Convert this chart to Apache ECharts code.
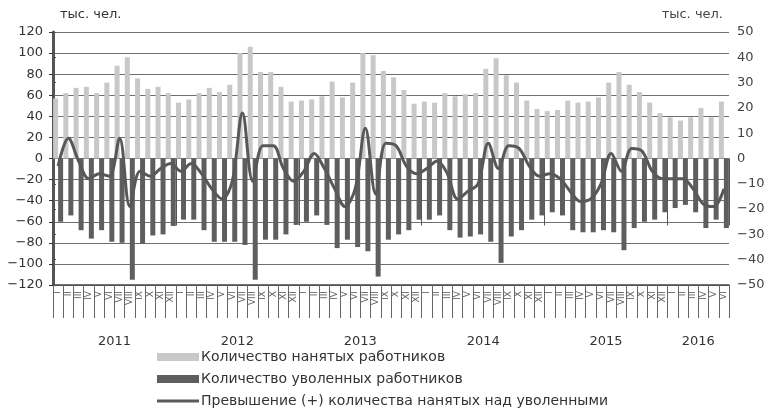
<!DOCTYPE html>
<html>
<head>
<meta charset="utf-8">
<script src="https://cdn.jsdelivr.net/npm/echarts@6/dist/echarts.min.js"></script>
<style>html,body{margin:0;padding:0;background:#fff;}#c{width:770px;height:408px;}</style>
</head>
<body>
<div id="c"></div>
<script>
// ---- data ----
const years = ['2011', '2012', '2013', '2014', '2015', '2016'];
const monthsPerYear = [12, 12, 12, 12, 12, 6];
const romanMonths = ['I', 'II', 'III', 'IV', 'V', 'VI', 'VII', 'VIII', 'IX', 'X', 'XI', 'XII'];

// hired workers, thousand persons (left axis)
const hired = [
  57, 62, 67, 68, 62, 72, 88, 96, 76, 66, 68, 62,
  53, 56, 62, 67, 63, 70, 100, 106, 82, 82, 68, 54,
  55, 56, 59, 73, 58, 72, 100, 98, 83, 77, 65, 52,
  54, 53, 62, 59, 61, 62, 85, 95, 79, 72, 55, 47,
  45, 46, 55, 53, 54, 58, 72, 82, 70, 63, 53, 43,
  39, 36, 39, 48, 39, 54
];
// dismissed workers, thousand persons (left axis, negative)
const fired = [
  -60, -54, -68, -76, -68, -79, -80, -115, -81, -73, -72, -64,
  -58, -58, -68, -79, -79, -79, -82, -115, -77, -77, -72, -63,
  -60, -54, -63, -85, -77, -84, -88, -112, -77, -72, -68, -58,
  -58, -54, -68, -75, -74, -72, -79, -99, -74, -68, -58, -54,
  -51, -54, -68, -70, -70, -68, -70, -87, -66, -60, -58, -51,
  -47, -44, -51, -66, -58, -66
];
// excess (+) of hired over dismissed, thousand persons (right axis)
const balance = [
  -3, 8, -1, -8, -6, -7, 8, -19, -5, -7, -4, -2,
  -5, -2, -6, -12, -16, -9, 18, -9, 5, 5, -4, -9,
  -5, 2, -4, -12, -19, -12, 12, -14, 6, 5, -3, -6,
  -4, -1, -6, -16, -13, -10, 6, -4, 5, 4, -3, -7,
  -6, -8, -13, -17, -16, -10, 2, -5, 4, 3, -5, -8,
  -8, -8, -12, -18, -19, -12
];
const seriesNames = [
  'Количество нанятых работников',
  'Количество уволенных работников',
  'Превышение (+) количества нанятых над уволенными'
];
const unitLabel = 'тыс. чел.';

// ---- build categories ----
const monthCats = [];
const yearCenters = {};
let pos = 0;
years.forEach((y, k) => {
  const n = monthsPerYear[k];
  for (let m = 0; m < n; m++) monthCats.push(romanMonths[m]);
  yearCenters[pos + n / 2] = y;
  pos += n;
});
const total = pos;

const FONT = 'DejaVu Sans';
const minusFmt = v => (v < 0 ? '\u2212' + Math.abs(v) : String(v));
// thin bar legend icon (invisible points keep the box 8 units tall)
const lineIcon = 'path://M0,0 L0.01,0 M0,8 L0.01,8 M0,2.5 L42,2.5 L42,5.5 L0,5.5 Z';

const chart = echarts.init(document.getElementById('c'), null, { renderer: 'canvas' });
chart.setOption({
  animation: false,
  backgroundColor: '#ffffff',
  textStyle: { fontFamily: FONT },
  title: [
    { text: unitLabel, left: 60, top: 8, padding: 0, textStyle: { fontSize: 13, fontWeight: 'normal', color: '#333', fontFamily: FONT } },
    { text: unitLabel, right: 47, top: 8, padding: 0, textStyle: { fontSize: 13, fontWeight: 'normal', color: '#444', fontFamily: FONT } }
  ],
  grid: { left: 53, right: 41, top: 32, bottom: 123, containLabel: false, outerBoundsMode: 'none' },
  legend: {
    orient: 'vertical',
    left: 157,
    top: 350,
    height: 80,
    padding: 0,
    itemWidth: 42,
    itemHeight: 8,
    itemGap: 8,
    selectedMode: false,
    textStyle: { fontSize: 14, color: '#333', fontFamily: FONT, padding: [0, 0, 0, -3] },
    data: [
      { name: seriesNames[0], icon: 'rect' },
      { name: seriesNames[1], icon: 'rect' },
      { name: seriesNames[2], icon: lineIcon, itemStyle: { color: '#5a5a5a' } }
    ]
  },
  xAxis: [
    {
      type: 'category',
      data: monthCats,
      position: 'bottom',
      axisLine: { onZero: false, lineStyle: { color: '#444', width: 1.5 } },
      axisTick: { show: true, interval: 0, length: 33, lineStyle: { color: '#666', width: 1 } },
      axisLabel: { interval: 0, rotate: 90, fontSize: 9, color: '#666', margin: 6, fontFamily: FONT },
      splitLine: { show: false }
    },
    {
      type: 'value',
      min: 0,
      max: total,
      interval: 12,
      position: 'bottom',
      axisLine: { show: false },
      axisTick: { show: true, length: 67, lineStyle: { color: '#555', width: 1 } },
      axisLabel: { show: false },
      splitLine: { show: false }
    },
    {
      type: 'value',
      min: 0,
      max: total,
      interval: 3,
      position: 'bottom',
      axisLine: { show: false },
      axisTick: { show: false },
      axisLabel: {
        show: true,
        margin: 50,
        fontSize: 13,
        color: '#333',
        fontFamily: FONT,
        formatter: v => yearCenters[v] || ''
      },
      splitLine: { show: false }
    }
  ],
  yAxis: [
    {
      type: 'value',
      min: -120,
      max: 120,
      interval: 20,
      axisLine: { show: true, lineStyle: { color: '#333', width: 1.5 } },
      axisTick: { show: true, length: 4, lineStyle: { color: '#333' } },
      axisLabel: { fontSize: 13, color: '#333', margin: 10, formatter: minusFmt },
      splitLine: { show: true, lineStyle: { color: '#6e6e6e', width: 1 } }
    },
    {
      type: 'value',
      min: -50,
      max: 50,
      interval: 10,
      position: 'right',
      axisLine: { show: true, lineStyle: { color: '#555', width: 3 } },
      axisTick: { show: true, length: 3, lineStyle: { color: '#555' } },
      axisLabel: { fontSize: 13, color: '#444', margin: 8, formatter: minusFmt },
      splitLine: { show: false }
    }
  ],
  series: [
    {
      name: seriesNames[0],
      type: 'bar',
      xAxisIndex: 0,
      yAxisIndex: 0,
      data: hired,
      barWidth: 5,
      barGap: '0%',
      itemStyle: { color: '#c8c8c8' }
    },
    {
      name: seriesNames[1],
      type: 'bar',
      xAxisIndex: 0,
      yAxisIndex: 0,
      data: fired,
      barWidth: 5,
      barGap: '0%',
      itemStyle: { color: '#5e5e5e' }
    },
    {
      name: seriesNames[2],
      type: 'line',
      xAxisIndex: 0,
      yAxisIndex: 1,
      data: balance,
      smooth: 0.35,
      symbol: 'none',
      lineStyle: { color: '#585858', width: 3 },
      itemStyle: { color: '#585858' },
      z: 5
    }
  ]
});
</script>
</body>
</html>
